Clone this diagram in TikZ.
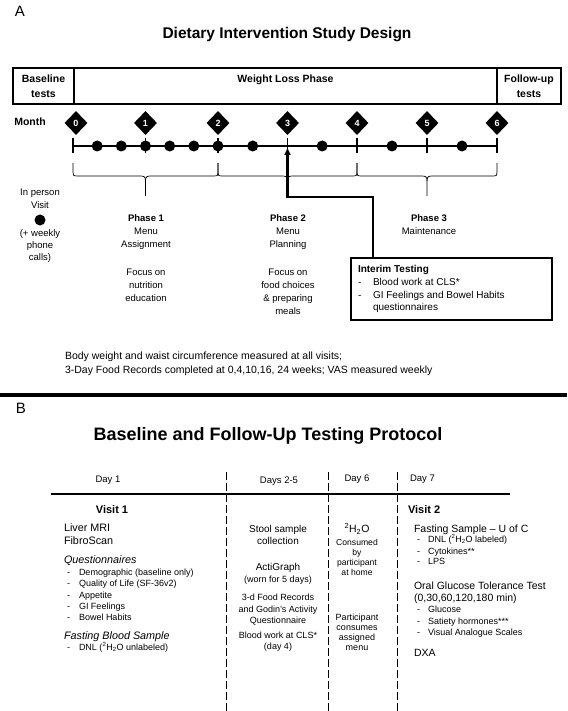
\documentclass[tikz,border=0pt]{standalone}
\usepackage{fontspec}
\setmainfont{Liberation Sans}
\usetikzlibrary{shapes.geometric,arrows.meta}
\newcommand\fs[1]{\fontsize{#1}{#1}\selectfont}
\newcommand\phbrace[3]{%
 \draw[bracestyle] (#1,163) -- (#1,172) .. controls (#1,175) and (#1,176) .. ({#1+4},176) -- ({#2-5},176) .. controls ({#2-1},176) and (#2,177) .. (#2,181) -- (#2,196);
 \draw[bracestyle] (#2,181) .. controls (#2,177) and ({#2+1},176) .. ({#2+5},176) -- ({#3-4},176) .. controls (#3,176) and (#3,175) .. (#3,172) -- (#3,163);}
\begin{document}
\begin{tikzpicture}[x=1pt,y=-1pt,
  base/.style={inner sep=0pt,outer sep=0pt},
  ctext/.style={base,anchor=mid},
  ltext/.style={base,anchor=mid west},
  cell/.style={draw,line width=1.8pt,minimum height=36pt,inner sep=0pt,align=center,font=\bfseries\fontsize{10.5}{15.5}\selectfont},
  mdia/.style={diamond,fill=black,text=white,font=\bfseries\fs{9},minimum width=23pt,minimum height=24pt,inner sep=0pt},
  visit/.style={circle,fill=black,minimum size=11pt,inner sep=0pt},
  bracestyle/.style={line width=0.7pt},
  dayline/.style={line width=1pt,dash pattern=on 8pt off 3pt}]
\useasboundingbox (0,0) rectangle (567,711);

% ---------------- Panel A ----------------
\node[base,font=\fs{15}] (lblA) at (20,11) {A};
\node[base,font=\bfseries\fs{15.5}] (titleA) at (287,35) {Dietary Intervention Study Design};

\node[cell,minimum width=61pt] (bl) at (43.5,86) {Baseline\\tests};
\node[cell,minimum width=423pt] (wl) at (285.5,86) {};
\node[cell,minimum width=64pt] (fu) at (529,86) {Follow-up\\tests};
\node[ctext,font=\bfseries\fs{10.5}] (wlt) at (285.5,80) {Weight Loss Phase};

\node[ctext,font=\bfseries\fs{10.5}] (month) at (30,123) {Month};

\foreach \m/\x in {0/73,1/145.5,2/218,3/287.5,4/357,5/427,6/497}
  \coordinate (t\m) at (\x,146);
\draw[line width=2pt] (t0) -- (t6);
\foreach \m in {0,...,6}
  \draw[line width=1.5pt] ([yshift=-7.5pt]t\m) -- ([yshift=7.5pt]t\m);
\foreach \m/\x in {0/76,1/145.5,2/218,3/287.5,4/357,5/427,6/497}
  \node[mdia] (d\m) at (\x,123) {\m};
\foreach \x [count=\i] in {97.2,121.3,145.5,169.7,193.8,218,252.7,322.2,392,462}
  \node[visit] (v\i) at (\x,146) {};

\phbrace{73}{145.5}{218}
\phbrace{218}{287.5}{357}
\phbrace{357}{427}{497}

% legend
\node[ctext,font=\fs{9.5}] (lg1) at (40,193) {In person};
\node[ctext,font=\fs{9.5}] (lg2) at (40,206) {Visit};
\node[visit] (lgdot) at (40,220) {};
\node[ctext,font=\fs{9.5}] (lg3) at (40,234) {(+ weekly};
\node[ctext,font=\fs{9.5}] (lg4) at (40,246) {phone};
\node[ctext,font=\fs{9.5}] (lg5) at (40,258) {calls)};

% phases
\node[ctext,font=\bfseries\fs{9.5}] (ph1) at (146,219) {Phase 1};
\foreach \t/\yy [count=\i] in {Menu/232,Assignment/245,Focus on/273,nutrition/286,education/299}
  \node[ctext,font=\fs{9.5}] (ph1\i) at (146,\yy) {\t};
\node[ctext,font=\bfseries\fs{9.5}] (ph2) at (288,219) {Phase 2};
\foreach \t/\yy [count=\i] in {Menu/232,Planning/245,Focus on/273,food choices/286,\& preparing/299,meals/312}
  \node[ctext,font=\fs{9.5}] (ph2\i) at (288,\yy) {\t};
\node[ctext,font=\bfseries\fs{9.5}] (ph3) at (429,219) {Phase 3};
\node[ctext,font=\fs{9.5}] (ph31) at (429,232) {Maintenance};

% interim testing
\node[draw,line width=1.2pt,minimum width=201pt,minimum height=62pt,inner sep=0pt] (ib) at (451.5,289) {};
\node[ltext,font=\bfseries\fs{10}] (it0) at (358,270) {Interim Testing};
\node[ltext,font=\fs{10}] (itd1) at (358,283) {-};
\node[ltext,font=\fs{10}] (it1) at (373,283) {Blood work at CLS*};
\node[ltext,font=\fs{10}] (itd2) at (358,296) {-};
\node[ltext,font=\fs{10}] (it2) at (373,296) {GI Feelings and Bowel Habits};
\node[ltext,font=\fs{10}] (it3) at (373,308) {questionnaires};

\coordinate (bend) at (373,197);
\draw[line width=2.3pt,-{Triangle[length=7pt,width=6pt]}] (bend |- ib.north) -- (bend) -| ([yshift=-2pt]t3);

% footer
\node[ltext,font=\fs{10.5}] (f1) at (65,357) {Body weight and waist circumference measured at all visits;};
\node[ltext,font=\fs{10.5}] (f2) at (65,371) {3-Day Food Records completed at 0,4,10,16, 24 weeks; VAS measured weekly};

% separator
\coordinate (sepL) at (0,395);
\coordinate (sepR) at (567,395);
\draw[line width=4pt] (sepL) -- (sepR);

% ---------------- Panel B ----------------
\node[base,font=\fs{15}] (lblB) at (21,408) {B};
\node[base,font=\bfseries\fs{18}] (titleB) at (268,436) {Baseline and Follow-Up Testing Protocol};

\node[ctext,font=\fs{9.5}] (day1) at (108,480) {Day 1};
\node[ctext,font=\fs{9.5}] (day25) at (279,481) {Days 2-5};
\node[ctext,font=\fs{9.5}] (day6) at (357,479) {Day 6};
\node[ltext,font=\fs{9.5}] (day7) at (410,479) {Day 7};

\foreach \x [count=\i] in {226,328,397} {
  \coordinate (dt\i) at (\x,472);
  \coordinate (db\i) at (\x,711);
  \draw[dayline] (dt\i) -- (db\i);
}
\coordinate (hlL) at (51,494);
\coordinate (hlR) at (510,494);
\draw[line width=2.5pt] (hlL) -- (hlR);

% Day 1
\node[ctext,font=\bfseries\fs{11}] (vis1) at (112,511) {Visit 1};
\node[ltext,font=\fs{10.8}] (liv) at (64,529) {Liver MRI};
\node[ltext,font=\fs{10.8}] (fib) at (64,542) {FibroScan};
\node[ltext,font=\itshape\fs{10.8}] (quest) at (64,561) {Questionnaires};
\foreach \t/\yy [count=\i] in {Demographic (baseline only)/573,Quality of Life (SF-36v2)/584,Appetite/596,GI Feelings/607,Bowel Habits/618} {
  \node[ltext,font=\fs{9}] (qd\i) at (67,\yy) {-};
  \node[ltext,font=\fs{9}] (q\i) at (79,\yy) {\t};
}
\node[ltext,font=\itshape\fs{10.8}] (fbs) at (64,637) {Fasting Blood Sample};
\node[ltext,font=\fs{9}] (fbsd) at (67,648) {-};
\node[ltext,font=\fs{9}] (fbs1) at (79,648) {DNL (\textsuperscript{2}H\textsubscript{2}O unlabeled)};

% Days 2-5
\node[ctext,font=\fs{10}] (st1) at (278,530) {Stool sample};
\node[ctext,font=\fs{10}] (st2) at (278,542) {collection};
\node[ctext,font=\fs{10}] (ag1) at (278,568) {ActiGraph};
\node[ctext,font=\fs{9}] (ag2) at (278,580) {(worn for 5 days)};
\node[ctext,font=\fs{9}] (fr1) at (278,598) {3-d Food Records};
\node[ctext,font=\fs{9}] (fr2) at (278,610) {and Godin's Activity};
\node[ctext,font=\fs{9}] (fr3) at (278,621) {Questionnaire};
\node[ctext,font=\fs{9}] (bw1) at (278,636) {Blood work at CLS*};
\node[ctext,font=\fs{9}] (bw2) at (278,647) {(day 4)};

% Day 6
\node[ctext,font=\fs{10.5}] (h2o) at (357,530) {\textsuperscript{2}H\textsubscript{2}O};
\foreach \t/\yy [count=\i] in {Consumed/543,by/553,participant/563,at home/573}
  \node[ctext,font=\fs{8.6}] (cs\i) at (357,\yy) {\t};
\foreach \t/\yy [count=\i] in {Participant/618,consumes/628,assigned/638,menu/648}
  \node[ctext,font=\fs{9}] (pc\i) at (357,\yy) {\t};

% Day 7
\node[ltext,font=\bfseries\fs{11}] (vis2) at (408,511) {Visit 2};
\node[ltext,font=\fs{10.5}] (fs1) at (414,530) {Fasting Sample -- U of C};
\foreach \t/\yy [count=\i] in {DNL (\textsuperscript{2}H\textsubscript{2}O labeled)/540,Cytokines**/552,LPS/562} {
  \node[ltext,font=\fs{9}] (fsd\i) at (417,\yy) {-};
  \node[ltext,font=\fs{9}] (fsi\i) at (428,\yy) {\t};
}
\node[ltext,font=\fs{10.5}] (og1) at (414,587) {Oral Glucose Tolerance Test};
\node[ltext,font=\fs{10.5}] (og2) at (414,599) {(0,30,60,120,180 min)};
\foreach \t/\yy [count=\i] in {Glucose/610,Satiety hormones***/622,Visual Analogue Scales/633} {
  \node[ltext,font=\fs{9}] (ogd\i) at (417,\yy) {-};
  \node[ltext,font=\fs{9}] (ogi\i) at (428,\yy) {\t};
}
\node[ltext,font=\fs{10.5}] (dxa) at (414,654) {DXA};
\end{tikzpicture}
\end{document}
